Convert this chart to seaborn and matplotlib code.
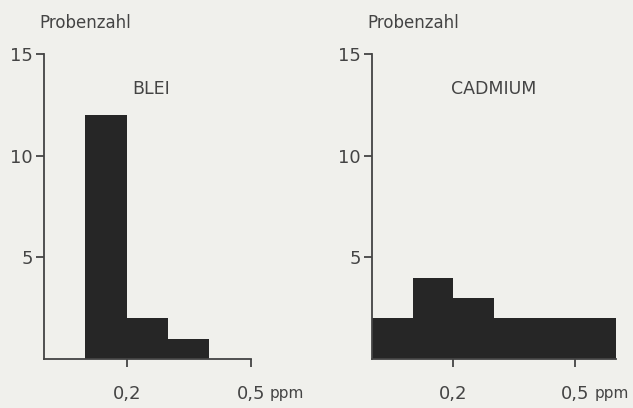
"""Histogramme: Blei- und Cadmiumgehalt (Probenzahl je Konzentrationsklasse)."""

import matplotlib
matplotlib.use("Agg")
import matplotlib.pyplot as plt
import seaborn as sns

# bin edges in ppm and counts per bin
blei_edges = [0.1, 0.2, 0.3, 0.4]
blei_counts = [12, 2, 1]
cadmium_edges = [0.0, 0.1, 0.2, 0.3, 0.4, 0.5, 0.6]
cadmium_counts = [2, 4, 3, 2, 2, 2]

y_ticks = [5, 10, 15]
x_ticks = [0.2, 0.5]
x_tick_labels = ["0,2", "0,5"]
panel_titles = ["BLEI", "CADMIUM"]

BG = "#f0f0ec"
BAR = "#262626"
INK = "#444444"

sns.set_theme(style="white")
plt.rcParams["font.family"] = ["DejaVu Sans"]

fig = plt.figure(figsize=(6.33, 4.08), dpi=100, facecolor=BG)
W, H = 633, 408


def make_axes(left_px, width_px):
    return fig.add_axes([left_px / W, 49 / H, width_px / W, 305 / H])


# axes, edges, counts, title, title x (ppm), end of x axis line
panels = [
    (make_axes(44, 248), blei_edges, blei_counts, panel_titles[0], 0.26, 0.5),
    (make_axes(372, 244), cadmium_edges, cadmium_counts, panel_titles[1], 0.30, 0.6),
]

for ax, edges, counts, title, title_x, x_end in panels:
    ax.set_facecolor("none")
    centers = [(a + b) / 2 for a, b in zip(edges[:-1], edges[1:])]
    sns.histplot(
        x=centers, weights=counts, bins=edges, ax=ax,
        color=BAR, alpha=1, edgecolor="none", linewidth=0,
    )
    ax.set_xlim(0, 0.6)
    ax.set_ylim(0, 15)

    for side in ["top", "right"]:
        ax.spines[side].set_visible(False)
    for side in ["left", "bottom"]:
        ax.spines[side].set_color(INK)
        ax.spines[side].set_linewidth(1.3)
    ax.spines["bottom"].set_bounds(0, x_end)

    ax.set_yticks(y_ticks)
    ax.set_yticklabels([str(t) for t in y_ticks])
    ax.set_xticks(x_ticks)
    ax.set_xticklabels(x_tick_labels)
    ax.tick_params(axis="y", direction="out", length=6, width=1.3, color=INK,
                   labelsize=13, labelcolor=INK, pad=2, left=True)
    ax.tick_params(axis="x", direction="out", length=6, width=1.3, color=INK,
                   labelsize=13, labelcolor=INK, pad=13, bottom=True)
    # crossing tick at the top of the y axis
    ax.set_yticks([15], minor=True)
    ax.tick_params(axis="y", which="minor", direction="in", length=6, width=1.3,
                   color=INK, left=True)
    if x_end == 0.5:
        ax.set_xticks([0.5], minor=True)
        ax.tick_params(axis="x", which="minor", direction="in", length=8,
                       width=1.3, color=INK, bottom=True)

    ax.set_xlabel("")
    ax.set_ylabel("")
    ax.annotate("ppm", xy=(0.5, 0), xycoords=("data", "axes fraction"),
                xytext=(14, -25), textcoords="offset points",
                ha="left", va="center", fontsize=11, color=INK)
    ax.text(title_x, 13.3, title, ha="center", va="center", fontsize=12.5, color=INK)
    ax.annotate("Probenzahl", xy=(0, 15), xycoords="data",
                xytext=(-3, 22), textcoords="offset points",
                ha="left", va="center", fontsize=12, color=INK)

fig.savefig("out.png", dpi=100, facecolor=BG)
